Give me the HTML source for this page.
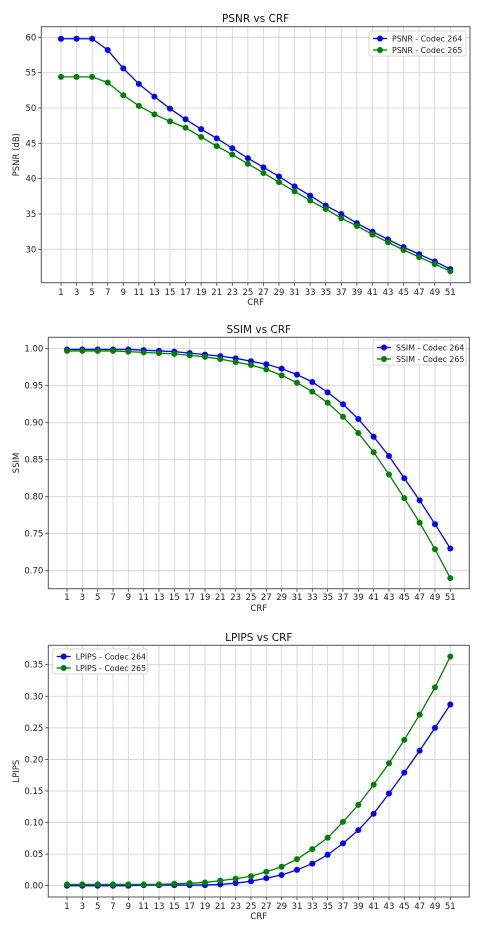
<!DOCTYPE html>
<html><head><meta charset="utf-8"><style>
body{margin:0;background:#fff;}
svg{display:block;font-family:"DejaVu Sans","Liberation Sans",sans-serif;}
</style></head><body>
<svg id="s" width="484" height="936" xmlns="http://www.w3.org/2000/svg"></svg>
<script>
const crf = [1,3,5,7,9,11,13,15,17,19,21,23,25,27,29,31,33,35,37,39,41,43,45,47,49,51];
const psnr264 = [59.8,59.8,59.8,58.2,55.6,53.4,51.6,49.9,48.4,47.0,45.7,44.3,42.9,41.6,40.3,38.9,37.6,36.2,35.0,33.7,32.5,31.4,30.3,29.3,28.3,27.2];
const psnr265 = [54.4,54.4,54.4,53.6,51.8,50.3,49.1,48.1,47.2,45.9,44.6,43.4,42.1,40.8,39.5,38.2,36.9,35.7,34.4,33.3,32.1,31.0,29.9,28.9,27.9,26.9];
const ssim264 = [.999,.999,.999,.999,.999,.998,.997,.996,.994,.992,.990,.987,.983,.979,.973,.965,.955,.941,.925,.905,.881,.855,.825,.795,.763,.730];
const ssim265 = [.997,.997,.997,.997,.996,.995,.994,.993,.991,.989,.986,.982,.978,.972,.964,.954,.942,.927,.908,.886,.860,.830,.798,.765,.729,.690];
const lpips264 = [0,0,0,0,0,.001,.001,.001,.001,.001,.002,.004,.007,.012,.017,.025,.035,.049,.067,.088,.114,.146,.179,.214,.250,.287];
const lpips265 = [.002,.002,.002,.002,.002,.002,.002,.003,.004,.005,.008,.011,.015,.022,.030,.042,.058,.076,.101,.128,.160,.194,.231,.271,.314,.363];
const psnrTicks = [30,35,40,45,50,55,60];
const ssimTicks = [0.70,0.75,0.80,0.85,0.90,0.95,1.00];
const lpipsTicks = [0,0.05,0.10,0.15,0.20,0.25,0.30,0.35];

const NS="http://www.w3.org/2000/svg", svg=document.getElementById('s');
function el(t,a,p){const e=document.createElementNS(NS,t);for(const k in a)e.setAttribute(k,a[k]);(p||svg).appendChild(e);return e;}

function chart(o){
  const g=el('g',{});
  
  
  const xs=v=>o.x1+(v-1)/(50)*(o.x51-o.x1);
  const ys=v=>o.yA+(v-o.vA)/(o.vB-o.vA)*(o.yB-o.yA);
  crf.forEach(c=>{el('line',{x1:xs(c),x2:xs(c),y1:o.top,y2:o.bot,stroke:'#d0d0d0','stroke-width':0.8},g);
    const t=el('text',{x:xs(c),y:o.tickY,'font-size':8.5,'text-anchor':'middle',fill:'#222'},g);t.textContent=c;
    });
  o.ticks.forEach(v=>{const y=ys(v);el('line',{x1:o.left,x2:o.right,y1:y,y2:y,stroke:'#d0d0d0','stroke-width':0.8},g);
    el('line',{x1:o.left-3,x2:o.left,y1:y,y2:y,stroke:'#333','stroke-width':0.8},g);
    const t=el('text',{x:o.left-5,y:y+3,'font-size':8.5,'text-anchor':'end',fill:'#222'},g);t.textContent=v.toFixed(o.dec);
    });
  crf.forEach(c=>el('line',{x1:xs(c),x2:xs(c),y1:o.bot,y2:o.bot+3,stroke:'#333','stroke-width':0.8},g));
  const fr=el('rect',{x:o.left,y:o.top,width:o.right-o.left,height:o.bot-o.top,fill:'none',stroke:'#555','stroke-width':1},g);
  
  const ti=el('text',{x:(o.left+o.right)/2,y:o.titleY,'font-size':10.5,'text-anchor':'middle',fill:'#111'},g);ti.textContent=o.title;
  
  const xl=el('text',{x:(o.left+o.right)/2,y:o.crfY,'font-size':8.5,'text-anchor':'middle',fill:'#222'},g);xl.textContent='CRF';
  
  const ym=(o.top+o.bot)/2;
  const yl=el('text',{x:o.ylX,y:ym,'font-size':8.5,'text-anchor':'middle',fill:'#222',transform:`rotate(-90 ${o.ylX} ${ym})`},g);yl.textContent=o.ylabel;
  
  o.series.forEach(s=>{
    const p=el('polyline',{points:s.d.map((v,i)=>xs(crf[i])+','+ys(v)).join(' '),fill:'none',stroke:s.c,'stroke-width':1.3},g);
    
    s.d.forEach((v,i)=>{const c=el('circle',{cx:xs(crf[i]),cy:ys(v),r:3,fill:s.c},g);
      });
  });
  const L=o.leg;
  const lg=el('g',{},g);
  el('rect',{x:L[0],y:L[1],width:L[2],height:25,fill:'#fff','fill-opacity':0.85,stroke:'#ccc','stroke-width':0.8,rx:2},lg);
  o.series.forEach((s,i)=>{const y=L[1]+7.5+i*11.5;
    el('line',{x1:L[0]+4,x2:L[0]+18,y1:y,y2:y,stroke:s.c,'stroke-width':1.3},lg);
    el('circle',{cx:L[0]+11,cy:y,r:3,fill:s.c},lg);
    const t=el('text',{x:L[0]+23,y:y+3,'font-size':7.8,fill:'#222'},lg);t.textContent=s.n;
    });
}
chart({name:'psnr-chart',title:'PSNR vs CRF',ylabel:'PSNR (dB)',left:41.3,right:470,top:26.7,bot:282.7,x1:61,x51:450.3,
  yA:37.3,vA:60,yB:249.3,vB:30,ticks:psnrTicks,dec:0,titleY:22,tickY:295,crfY:305,ylX:19,leg:[369,31,97],
  series:[{d:psnr264,c:'#0000ff',n:'PSNR - Codec 264'},{d:psnr265,c:'#008000',n:'PSNR - Codec 265'}]});
chart({name:'ssim-chart',title:'SSIM vs CRF',ylabel:'SSIM',left:48.3,right:469.3,top:337.3,bot:588.7,x1:67,x51:450.3,
  yA:348.7,vA:1.0,yB:570.7,vB:0.70,ticks:ssimTicks,dec:2,titleY:333,tickY:600,crfY:611,ylX:19,leg:[373,340,93],
  series:[{d:ssim264,c:'#0000ff',n:'SSIM - Codec 264'},{d:ssim265,c:'#008000',n:'SSIM - Codec 265'}]});
chart({name:'lpips-chart',title:'LPIPS vs CRF',ylabel:'LPIPS',left:48.3,right:469.3,top:645.3,bot:897,x1:67,x51:450.3,
  yA:885.7,vA:0,yB:664.7,vB:0.35,ticks:lpipsTicks,dec:2,titleY:641,tickY:909,crfY:919,ylX:19,leg:[52.7,649,94.5],
  series:[{d:lpips264,c:'#0000ff',n:'LPIPS - Codec 264'},{d:lpips265,c:'#008000',n:'LPIPS - Codec 265'}]});
</script>
</body></html>
